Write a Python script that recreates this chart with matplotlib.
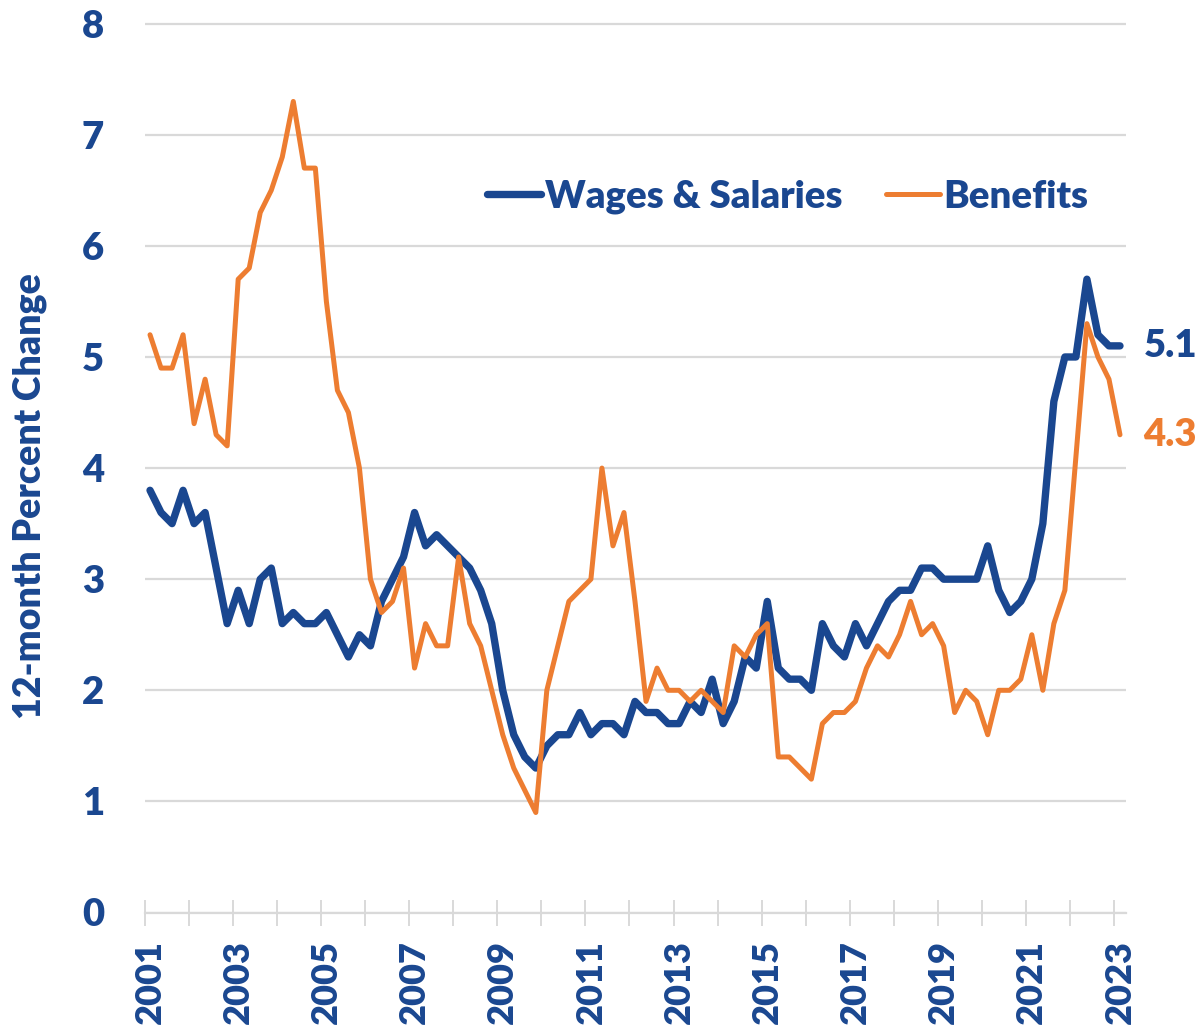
import matplotlib
matplotlib.use("Agg")
import matplotlib.pyplot as plt
import numpy as np

# Quarterly data, 2001Q1 .. 2023Q1
quarters = [f"{y}Q{q}" for y in range(2001, 2024) for q in range(1, 5)][:89]

wages_salaries = [
    3.8, 3.6, 3.5, 3.8, 3.5, 3.6, 3.1, 2.6, 2.9, 2.6, 3.0, 3.1,
    2.6, 2.7, 2.6, 2.6, 2.7, 2.5, 2.3, 2.5, 2.4, 2.8, 3.0, 3.2,
    3.6, 3.3, 3.4, 3.3, 3.2, 3.1, 2.9, 2.6, 2.0, 1.6, 1.4, 1.3,
    1.5, 1.6, 1.6, 1.8, 1.6, 1.7, 1.7, 1.6, 1.9, 1.8, 1.8, 1.7,
    1.7, 1.9, 1.8, 2.1, 1.7, 1.9, 2.3, 2.2, 2.8, 2.2, 2.1, 2.1,
    2.0, 2.6, 2.4, 2.3, 2.6, 2.4, 2.6, 2.8, 2.9, 2.9, 3.1, 3.1,
    3.0, 3.0, 3.0, 3.0, 3.3, 2.9, 2.7, 2.8, 3.0, 3.5, 4.6, 5.0,
    5.0, 5.7, 5.2, 5.1, 5.1,
]

benefits = [
    5.2, 4.9, 4.9, 5.2, 4.4, 4.8, 4.3, 4.2, 5.7, 5.8, 6.3, 6.5,
    6.8, 7.3, 6.7, 6.7, 5.5, 4.7, 4.5, 4.0, 3.0, 2.7, 2.8, 3.1,
    2.2, 2.6, 2.4, 2.4, 3.2, 2.6, 2.4, 2.0, 1.6, 1.3, 1.1, 0.9,
    2.0, 2.4, 2.8, 2.9, 3.0, 4.0, 3.3, 3.6, 2.8, 1.9, 2.2, 2.0,
    2.0, 1.9, 2.0, 1.9, 1.8, 2.4, 2.3, 2.5, 2.6, 1.4, 1.4, 1.3,
    1.2, 1.7, 1.8, 1.8, 1.9, 2.2, 2.4, 2.3, 2.5, 2.8, 2.5, 2.6,
    2.4, 1.8, 2.0, 1.9, 1.6, 2.0, 2.0, 2.1, 2.5, 2.0, 2.6, 2.9,
    4.1, 5.3, 5.0, 4.8, 4.3,
]

year_labels = [str(y) for y in range(2001, 2024, 2)]
y_ticks = [0, 1, 2, 3, 4, 5, 6, 7, 8]

BLUE = "#1a4790"
ORANGE = "#ed7d31"
GRID = "#d9d9d9"
FONT = ["Lato", "DejaVu Sans"]
WT = "heavy"

plt.rcParams["font.family"] = FONT
plt.rcParams["font.weight"] = WT

W, H = 1199, 1030
fig = plt.figure(figsize=(W / 100, H / 100), dpi=100)
ax = fig.add_axes([144.5 / W, (H - 912.5) / H, 981 / W, 890.5 / H])

x = np.arange(len(wages_salaries))
ax.plot(x, wages_salaries, color=BLUE, lw=5.3, solid_capstyle="round",
        solid_joinstyle="round", label="Wages & Salaries", zorder=3)
ax.plot(x, benefits, color=ORANGE, lw=3.6, solid_capstyle="round",
        solid_joinstyle="round", label="Benefits", zorder=4)

ax.set_xlim(-0.5, len(x) - 0.5)
ax.set_ylim(0, 8.015)

# y axis
ax.set_yticks(y_ticks)
ax.set_yticklabels([str(v) for v in y_ticks])
ax.tick_params(axis="y", length=0, pad=29, labelsize=27.5, labelcolor=BLUE)
for lab in ax.get_yticklabels():
    lab.set_fontweight(WT)
ax.grid(axis="y", color=GRID, lw=1.6)
ax.set_axisbelow(True)

# x axis: year boundary ticks (minor) and labels on odd-year Q1 (major)
ax.set_xticks(np.arange(0, len(x), 8))
ax.set_xticklabels(year_labels, rotation=90, fontweight=WT)
ax.set_xticks(np.arange(-0.5, len(x), 4), minor=True)
ax.tick_params(axis="x", which="major", length=0, pad=20, labelsize=26,
               labelcolor=BLUE)
ax.tick_params(axis="x", which="minor", direction="inout", length=19,
               width=1.4, color=GRID)

for s in ["top", "right", "left"]:
    ax.spines[s].set_visible(False)
ax.spines["bottom"].set_color(GRID)
ax.spines["bottom"].set_linewidth(1.6)

# end labels
ax.annotate(f"{wages_salaries[-1]:.1f}", xy=(x[-1], wages_salaries[-1]),
            xytext=(17, 0), textcoords="offset points", va="center",
            ha="left", fontsize=27.5, color=BLUE, fontweight=WT)
ax.annotate(f"{benefits[-1]:.1f}", xy=(x[-1], benefits[-1]),
            xytext=(17, 0), textcoords="offset points", va="center",
            ha="left", fontsize=27.5, color=ORANGE, fontweight=WT)

fig.text(30 / W, (H - 496) / H, "12-month Percent Change", rotation=90,
         ha="center", va="center", fontsize=27, color=BLUE, fontweight=WT)

leg = ax.legend(loc="center", bbox_to_anchor=((788 - 144.5) / 981, (912.5 - 197) / 890.5),
                ncol=2, frameon=False, prop={"size": 27.5, "weight": WT},
                handlelength=1.4, handletextpad=0.1, columnspacing=1.15,
                borderaxespad=0)
for t in leg.get_texts():
    t.set_color(BLUE)

fig.savefig("out.png", dpi=100)
